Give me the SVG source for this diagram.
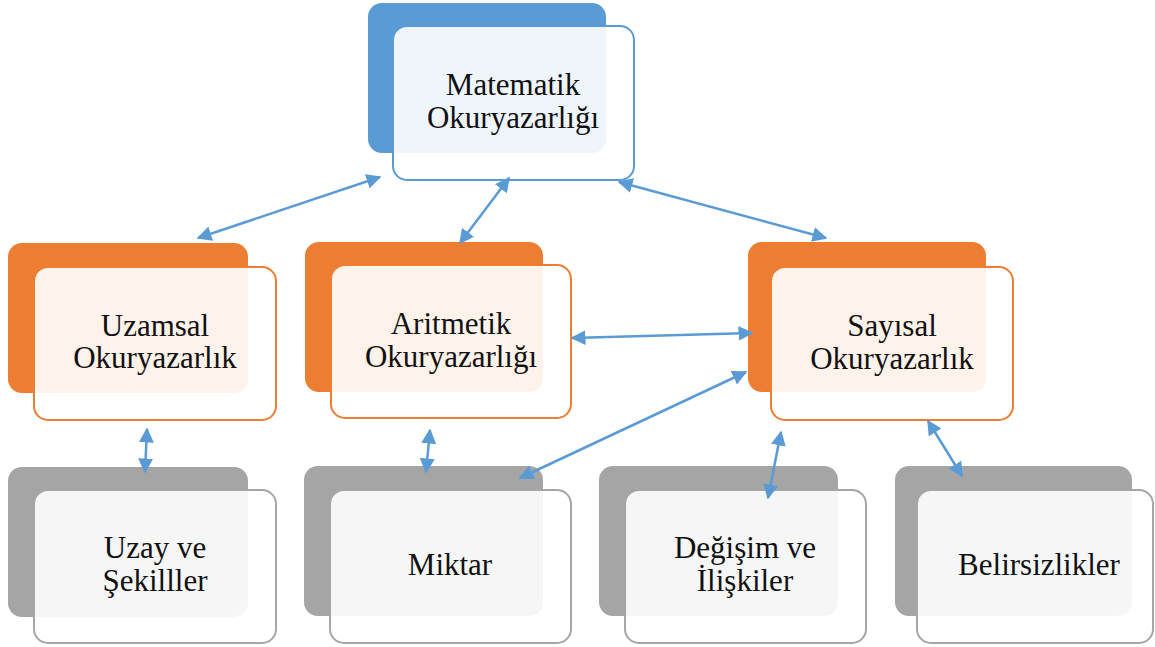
<svg xmlns="http://www.w3.org/2000/svg" width="1155" height="647" viewBox="0 0 1155 647">
<style>
.bb{fill:#5B9BD5}.bo{fill:#ED7D31}.bg{fill:#A5A5A5}
.f{fill:#FFFFFF;fill-opacity:0.9;stroke-width:2}
.fb{stroke:#5B9BD5}.fo{stroke:#ED7D31}.fg{stroke:#A5A5A5}
text{font-family:'Liberation Serif','DejaVu Serif',serif;font-size:31px;fill:#111;text-anchor:middle}
.c line{stroke:#5B9BD5;stroke-width:2.5;marker-start:url(#a);marker-end:url(#a)}
</style>
<defs>
<marker id="a" viewBox="0 0 10 10" refX="9" refY="5" markerWidth="15" markerHeight="15" markerUnits="userSpaceOnUse" orient="auto-start-reverse">
<path d="M0,0 L10,5 L0,10 Z" fill="#5B9BD5"/>
</marker>
</defs>
<rect width="1155" height="647" fill="#FFFFFF"/>
<g id="n-matematik">
<rect class="bb" x="368" y="3" width="238" height="150" rx="14"/>
<rect class="f fb" x="393" y="26" width="241" height="154" rx="14"/>
<text x="513" y="95">Matematik</text><text x="513" y="128">Okuryazarlığı</text>
</g>
<g id="n-uzamsal">
<rect class="bo" x="8" y="243" width="240" height="150" rx="14"/>
<rect class="f fo" x="34" y="267" width="242" height="153" rx="14"/>
<text x="155" y="336">Uzamsal</text><text x="155" y="368">Okuryazarlık</text>
</g>
<g id="n-aritmetik">
<rect class="bo" x="305" y="242" width="238" height="150" rx="14"/>
<rect class="f fo" x="331" y="265" width="240" height="153" rx="14"/>
<text x="451" y="334">Aritmetik</text><text x="451" y="367">Okuryazarlığı</text>
</g>
<g id="n-sayisal">
<rect class="bo" x="748" y="242" width="238" height="150" rx="14"/>
<rect class="f fo" x="771" y="267" width="242" height="153" rx="14"/>
<text x="892" y="336">Sayısal</text><text x="892" y="369">Okuryazarlık</text>
</g>
<g id="n-uzay">
<rect class="bg" x="8" y="467" width="240" height="150" rx="14"/>
<rect class="f fg" x="34" y="490" width="242" height="153" rx="14"/>
<text x="155" y="558">Uzay ve</text><text x="155" y="591">Şekilller</text>
</g>
<g id="n-miktar">
<rect class="bg" x="304" y="466" width="239" height="150" rx="14"/>
<rect class="f fg" x="330" y="490" width="241" height="153" rx="14"/>
<text x="450" y="575">Miktar</text>
</g>
<g id="n-degisim">
<rect class="bg" x="599" y="466" width="239" height="150" rx="14"/>
<rect class="f fg" x="625" y="490" width="241" height="153" rx="14"/>
<text x="745" y="558">Değişim ve</text><text x="745" y="591">İlişkiler</text>
</g>
<g id="n-belirsizlikler">
<rect class="bg" x="895" y="466" width="237" height="150" rx="14"/>
<rect class="f fg" x="917" y="490" width="236" height="153" rx="14"/>
<text x="1039" y="575">Belirsizlikler</text>
</g>
<g id="connectors" class="c">
<line x1="380" y1="177" x2="198" y2="238"/>
<line x1="509" y1="178" x2="460" y2="243"/>
<line x1="619" y1="182" x2="826" y2="238"/>
<line x1="572" y1="338" x2="752" y2="333"/>
<line x1="746" y1="372" x2="520" y2="478"/>
<line x1="147" y1="429" x2="145" y2="472"/>
<line x1="430" y1="430" x2="426" y2="472"/>
<line x1="781" y1="432" x2="768" y2="498"/>
<line x1="928" y1="421" x2="962" y2="476"/>
</g>
</svg>
